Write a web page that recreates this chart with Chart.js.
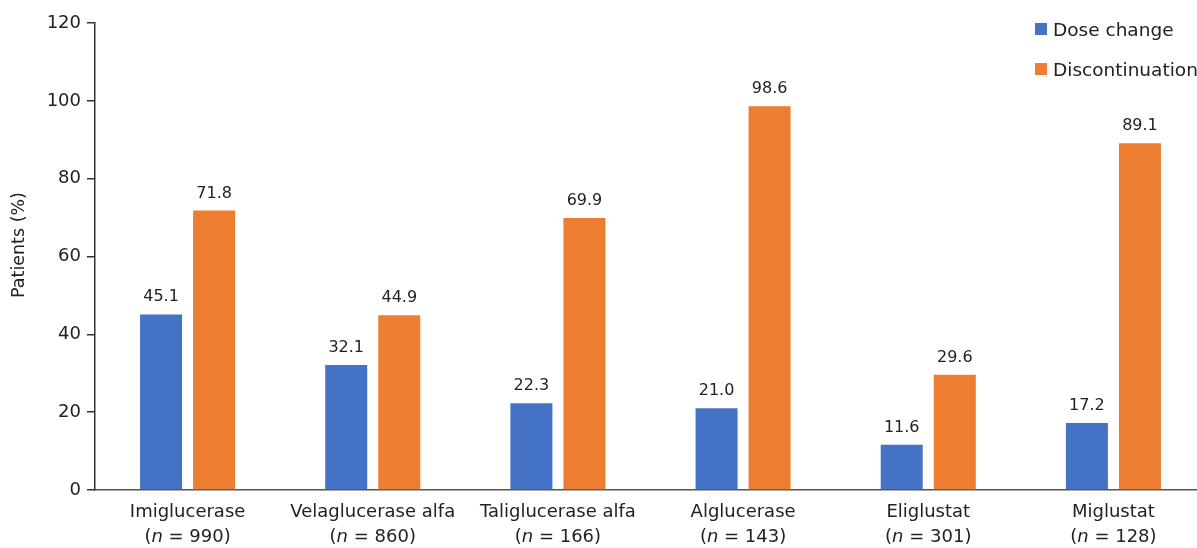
<!DOCTYPE html>
<html>
<head>
<meta charset="utf-8">
<script src="https://cdn.jsdelivr.net/npm/chart.js@4/dist/chart.umd.min.js"></script>
<style>
  html, body { margin: 0; padding: 0; background: #fff; overflow: hidden; }
  #wrap { position: relative; width: 1197px; height: 548px; overflow: hidden; }
  #c { position: absolute; left: 0; top: 0; }
  #legend { position: absolute; left: 1035px; top: 9px; font-family: "DejaVu Sans", sans-serif; font-size: 18.5px; color: #222; }
  #legend div { height: 40px; display: flex; align-items: center; white-space: nowrap; }
  #legend span { display: inline-block; width: 12px; height: 12px; margin-right: 6px; }
</style>
</head>
<body>
<div id="wrap">
  <canvas id="c" width="1206" height="548"></canvas>
  <div id="legend"></div>
</div>
<script>
var drugs = ['Imiglucerase', 'Velaglucerase alfa', 'Taliglucerase alfa', 'Alglucerase', 'Eliglustat', 'Miglustat'];
var sampleSizes = ['990', '860', '166', '143', '301', '128'];
var doseChange = [45.1, 32.1, 22.3, 21.0, 11.6, 17.2];
var discontinuation = [71.8, 44.9, 69.9, 98.6, 29.6, 89.1];
var yTicks = [0, 20, 40, 60, 80, 100, 120];
var yTitle = 'Patients (%)';

var FONT = '"DejaVu Sans", sans-serif';
var COLORS = { dose: '#4472c4', disc: '#ed7d31', text: '#222' };

// legend
var legendEl = document.getElementById('legend');
[['Dose change', COLORS.dose], ['Discontinuation', COLORS.disc]].forEach(function(it) {
  var d = document.createElement('div');
  d.innerHTML = '<span style="background:' + it[1] + '"></span>' + it[0];
  legendEl.appendChild(d);
});

// value labels above bars
var valueLabels = {
  id: 'valueLabels',
  afterDatasetsDraw: function(chart) {
    var ctx = chart.ctx;
    ctx.save();
    ctx.font = '16px ' + FONT;
    ctx.fillStyle = COLORS.text;
    ctx.textAlign = 'center';
    ctx.textBaseline = 'alphabetic';
    chart.data.datasets.forEach(function(ds, i) {
      chart.getDatasetMeta(i).data.forEach(function(bar, j) {
        ctx.fillText(ds.data[j].toFixed(1), bar.x, bar.y - 13);
      });
    });
    ctx.restore();
  }
};

// two-line category labels with italic n, plus the y title (sits a bit above centre)
var extraText = {
  id: 'extraText',
  afterDraw: function(chart) {
    var ctx = chart.ctx;
    var xs = chart.scales.x;
    var top = xs.top;
    var f = '18px ' + FONT, fi = 'italic 18px ' + FONT;
    ctx.save();
    ctx.fillStyle = COLORS.text;
    ctx.textBaseline = 'middle';
    drugs.forEach(function(name, i) {
      var x = xs.getPixelForValue(i);
      ctx.font = f;
      ctx.textAlign = 'center';
      ctx.fillText(name, x, top + 22);
      var p1 = '(', p2 = ' = ' + sampleSizes[i] + ')';
      var w1 = ctx.measureText(p1).width, w3 = ctx.measureText(p2).width;
      ctx.font = fi;
      var w2 = ctx.measureText('n').width;
      var start = x - (w1 + w2 + w3) / 2;
      ctx.textAlign = 'left';
      ctx.font = f;
      ctx.fillText(p1, start, top + 47);
      ctx.font = fi;
      ctx.fillText('n', start + w1, top + 47);
      ctx.font = f;
      ctx.fillText(p2, start + w1 + w2, top + 47);
    });

    ctx.translate(19, 245);
    ctx.rotate(-Math.PI / 2);
    ctx.font = '17.5px ' + FONT;
    ctx.textAlign = 'center';
    ctx.fillText(yTitle, 0, 0);
    ctx.restore();
  }
};

new Chart(document.getElementById('c'), {
  type: 'bar',
  data: {
    labels: drugs,
    datasets: [
      { label: 'Dose change', data: doseChange, backgroundColor: COLORS.dose },
      { label: 'Discontinuation', data: discontinuation, backgroundColor: COLORS.disc }
    ]
  },
  options: {
    responsive: false,
    animation: false,
    devicePixelRatio: 1,
    categoryPercentage: 0.573,
    barPercentage: 0.792,
    layout: { padding: { top: 23, right: 0, left: 0, bottom: 0 } },
    plugins: { legend: { display: false }, tooltip: { enabled: false } },
    scales: {
      x: {
        grid: { display: true, drawOnChartArea: false, drawTicks: false },
        border: { display: true, color: '#555', width: 1.5 },
        ticks: { display: false },
        afterFit: function(s) { s.height = 58; }
      },
      y: {
        min: 0,
        max: 120,
        afterBuildTicks: function(s) { s.ticks = yTicks.map(function(v) { return { value: v }; }); },
        grid: { display: true, drawOnChartArea: false, drawTicks: true, tickLength: 8, color: '#333', lineWidth: 1.5 },
        border: { display: true, color: '#333', width: 1.5 },
        ticks: { color: COLORS.text, font: { family: FONT, size: 18 }, padding: 6 },
        afterFit: function(s) { s.width = 95; }
      }
    }
  },
  plugins: [valueLabels, extraText]
});
</script>
</body>
</html>
